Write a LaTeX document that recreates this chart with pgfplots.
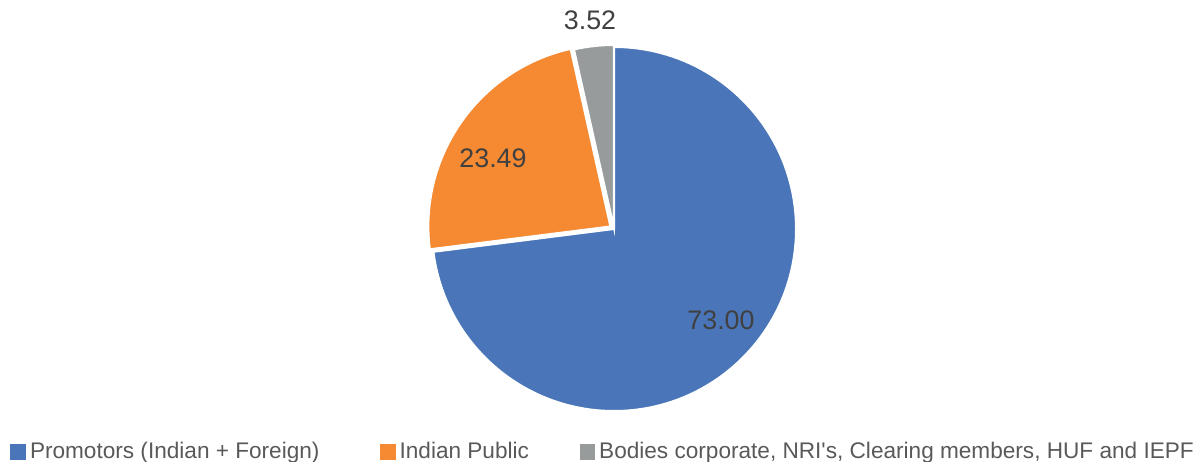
\documentclass[border=0pt]{standalone}
\usepackage{pgfplots}
\pgfplotsset{compat=1.18}
\usetikzlibrary{calc}
\usepackage{fontspec}
\setmainfont{Liberation Sans}
\definecolor{cblue}{HTML}{4A76B9}
\definecolor{corange}{HTML}{F58A32}
\definecolor{cgray}{HTML}{979B9C}
\definecolor{labtext}{HTML}{404040}
\definecolor{legtext}{HTML}{595959}
% shares (per cent)
\def\vA{73.00}
\def\vB{23.49}
\def\vC{3.52}
\pgfmathsetmacro{\aA}{90}
\pgfmathsetmacro{\aB}{90-3.6*\vA}
\pgfmathsetmacro{\aC}{\aB-3.6*\vB}
\pgfmathsetmacro{\aD}{\aC-3.6*\vC}
\pgfmathsetmacro{\mB}{(\aB+\aC)/2}
\pgfmathsetmacro{\mC}{(\aC+\aD)/2}
\begin{document}
\begin{tikzpicture}
\begin{axis}[
  x=0.5pt, y=0.5pt,
  xmin=0, xmax=1199, ymin=0, ymax=461,
  hide axis, clip=false,
  legend style={at={(axis cs:10,-1)}, anchor=south west, draw=none, fill=none,
    inner sep=0pt, font=\fontsize{11.3}{13}\selectfont\color{legtext},
    legend columns=-1,
    nodes={inner xsep=0pt, inner ysep=0pt},
    /tikz/every odd column/.append style={column sep=2pt},
    /tikz/every even column/.append style={column sep=0pt},
    legend cell align=left},
  legend image code/.code={\fill[#1, draw=none] (0pt,-3.9pt) rectangle (7.8pt,3.9pt);},
]
\addlegendimage{fill=cblue}
\addlegendentry{\makebox[175pt][l]{Promotors (Indian + Foreign)}}
\addlegendimage{fill=corange}
\addlegendentry{\makebox[90pt][l]{Indian Public}}
\addlegendimage{fill=cgray}
\addlegendentry{Bodies corporate, NRI\textquotesingle s, Clearing members, HUF and IEPF}
\coordinate (C) at (axis cs:614,232);
\coordinate (LL) at (axis cs:0,0);
\coordinate (UR) at (axis cs:1199,461);
% slices
\fill[cblue, draw=white, line width=1pt] (C) -- ++(\aA:91pt) arc[start angle=\aA, end angle=\aB, radius=91pt] -- cycle;
\fill[corange, draw=white, line width=1pt] ($(C)+(\mB:2.2pt)$) -- ++(\aB:91pt) arc[start angle=\aB, end angle=\aC, radius=91pt] -- cycle;
\fill[cgray, draw=white, line width=1pt] ($(C)+(\mC:1pt)$) -- ++(\aC:91pt) arc[start angle=\aC, end angle=\aD, radius=91pt] -- cycle;
\node[font=\fontsize{13.4}{15}\selectfont, text=labtext] at (axis cs:721,141) {73.00};
\node[font=\fontsize{13.4}{15}\selectfont, text=labtext] at (axis cs:493,303) {23.49};
\node[font=\fontsize{13.4}{15}\selectfont, text=labtext] at (axis cs:590,441) {3.52};
\end{axis}
\pgfresetboundingbox
\path[use as bounding box] (LL) rectangle (UR);
\end{tikzpicture}
\end{document}
